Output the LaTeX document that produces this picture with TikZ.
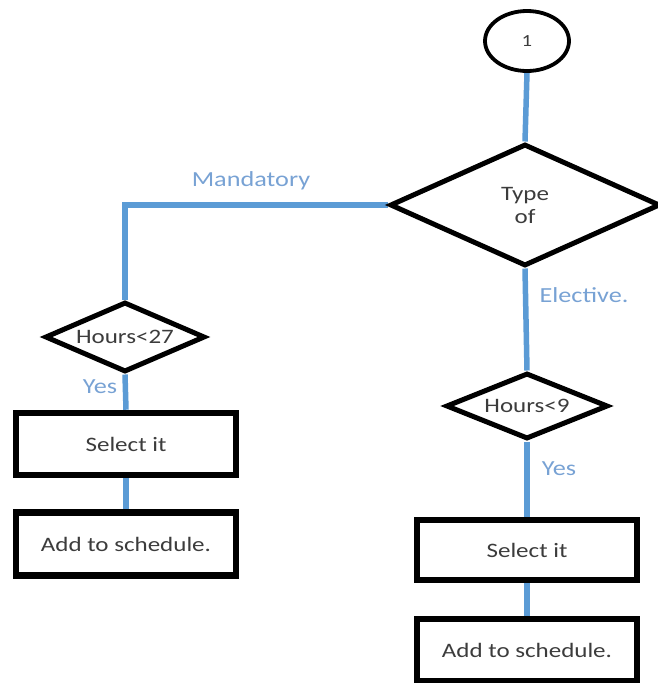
\documentclass[tikz,border=0pt]{standalone}
\usepackage{fontspec}
\setmainfont{Carlito}[FakeStretch=1.22]
\usetikzlibrary{shapes.geometric,backgrounds}
\definecolor{conn}{RGB}{91,155,213}
\definecolor{lbl}{RGB}{120,162,212}
\definecolor{txt}{RGB}{60,60,60}
\tikzset{
  every node/.style={font=\fontsize{20.5}{23}\selectfont, text=txt},
  dec/.style={draw=black, line width=5pt, diamond, inner sep=0pt, aspect=2.2, fill=white},
  box/.style={draw=black, line width=6.5pt, rectangle, inner sep=0pt, fill=white},
  conn/.style={draw=conn, line width=5.5pt},
  lab/.style={text=lbl, font=\fontsize{21.5}{24}\selectfont}
}
\begin{document}
\begin{tikzpicture}[x=1pt, y=-1pt]
\useasboundingbox (0,0) rectangle (657,683);
\node[draw=black, line width=3.8pt, ellipse, minimum width=84pt, minimum height=60pt, inner sep=0pt, font=\fontsize{17}{19}\selectfont] (start) at (527,41) {1};
\node[dec, minimum width=270pt, minimum height=122pt, align=center] (type) at (525,205) {Type\\of};
\node[dec, minimum width=160pt, minimum height=70pt] (h27) at (125,337) {Hours<27};
\node[dec, minimum width=162pt, minimum height=66pt] (h9) at (527,406) {Hours<9};
\node[box, minimum width=220pt, minimum height=62pt] (sel1) at (126,444) {Select it};
\node[box, minimum width=220pt, minimum height=63pt] (add1) at (126,544) {Add to schedule.};
\node[box, minimum width=220pt, minimum height=60pt] (sel2) at (527,550) {Select it};
\node[box, minimum width=220pt, minimum height=62pt] (add2) at (527,650) {Add to schedule.};
\coordinate (corner) at (125,205);
\begin{scope}[on background layer]
\draw[conn] (start.south) -- (type.north);
\draw[conn] (type.west) -- (corner) -- (h27.north);
\draw[conn] (type.south) -- (h9.north);
\draw[conn] (h27.south) -- (sel1.north);
\draw[conn] (sel1.south) -- (add1.north);
\draw[conn] (h9.south) -- (sel2.north);
\draw[conn] (sel2.south) -- (add2.north);
\end{scope}
\node[lab] (lmand) at (251,181) {Mandatory};
\node[lab] (lelec) at (584,295) {Elective.};
\node[lab] (lyes1) at (100,387) {Yes};
\node[lab] (lyes2) at (559,469) {Yes};
\end{tikzpicture}
\end{document}
